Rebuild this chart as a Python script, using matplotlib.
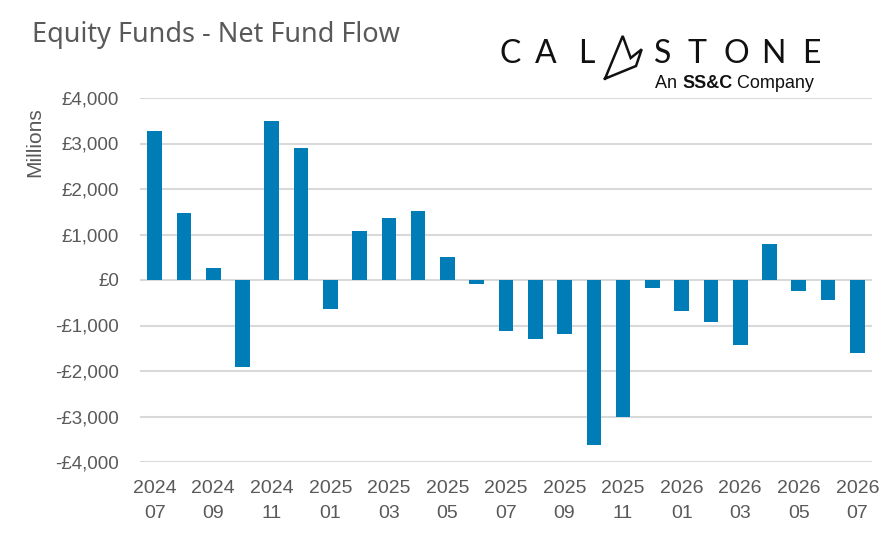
import numpy as np
from matplotlib import pyplot as plt
from matplotlib.lines import Line2D
from matplotlib.ticker import FuncFormatter

plt.rcParams["font.family"] = ["Liberation Sans", "DejaVu Sans"]

# monthly net flows, GBP millions
months = ["2024-07", "2024-08", "2024-09", "2024-10", "2024-11", "2024-12",
          "2025-01", "2025-02", "2025-03", "2025-04", "2025-05", "2025-06",
          "2025-07", "2025-08", "2025-09", "2025-10", "2025-11", "2025-12",
          "2026-01", "2026-02", "2026-03", "2026-04", "2026-05", "2026-06",
          "2026-07"]
flows = [3270, 1476, 270, -1915, 3493, 2900,
         -645, 1081, 1366, 1520, 511, -88,
         -1120, -1295, -1185, -3620, -3010, -175,
         -680, -920, -1425, 800, -240, -440,
         -1600]
y_ticks = [-4000, -3000, -2000, -1000, 0, 1000, 2000, 3000, 4000]

GREY = "#595959"
BLUE = "#007CB7"
W, H = 890, 554

fig = plt.figure(figsize=(8.9, 5.54), dpi=100)
ax = fig.add_axes([140 / W, 1 - 462 / H, 732 / W, 364 / H])

x = np.arange(len(months))
ax.bar(x, flows, width=0.5, color=BLUE, zorder=3)

ax.set_xlim(-0.5, len(months) - 0.5)
ax.set_ylim(-4000, 4000)
ax.set_yticks(y_ticks)
ax.yaxis.set_major_formatter(FuncFormatter(
    lambda v, p: ("-£{:,.0f}" if v < 0 else "£{:,.0f}").format(abs(v))))
ax.grid(axis="y", color="#D9D9D9", linewidth=1.5, zorder=0)

ax.set_xticks(x[::2])
ax.set_xticklabels([m.replace("-", "\n") for m in months[::2]],
                   linespacing=1.6)

for s in ax.spines.values():
    s.set_visible(False)
ax.tick_params(axis="both", length=0, labelcolor=GREY)
ax.tick_params(axis="y", pad=15, labelsize=13.5)
ax.tick_params(axis="x", pad=13, labelsize=14)

fig.text(35 / W, 1 - 142 / H, "Millions", rotation=90, ha="center",
         va="center", fontsize=15, color=GREY)

fig.text(32 / W, 1 - 35 / H, "Equity Funds - Net Fund Flow",
         fontsize=19.5, color=GREY, family="Noto Sans", va="center")

# logo: letters as text, the stylised "A" as a drawn outline
letters = "CAL STONE"
lx = [510, 546, 586, None, 663, 697, 736, 773, 811]
for ch, xx in zip(letters, lx):
    if xx is None:
        continue
    fig.text(xx / W, 1 - 54 / H, ch, fontsize=23, color="#111111",
             family=["Lato", "Liberation Sans"], ha="center", va="center")
ax_px = [605, 622.7, 630.7, 641.7, 636, 605]
ay_px = [78.7, 36, 58, 49.3, 66, 78.7]
fig.add_artist(Line2D([v / W for v in ax_px], [1 - v / H for v in ay_px],
                      color="#111111", linewidth=1.8, solid_joinstyle="miter",
                      transform=fig.transFigure))

# "An SS&C Company", pieces chained one after another
fig.canvas.draw()
r = fig.canvas.get_renderer()
xpos = 655 / W
for part, wt in [("An ", "normal"), ("SS&C", "bold"), (" Company", "normal")]:
    t = fig.text(xpos, 1 - 83 / H, part, fontsize=13, color="#111111",
                 weight=wt, va="center")
    bb = t.get_window_extent(renderer=r)
    xpos = bb.x1 / fig.bbox.width

fig.savefig("out.png", dpi=100)
